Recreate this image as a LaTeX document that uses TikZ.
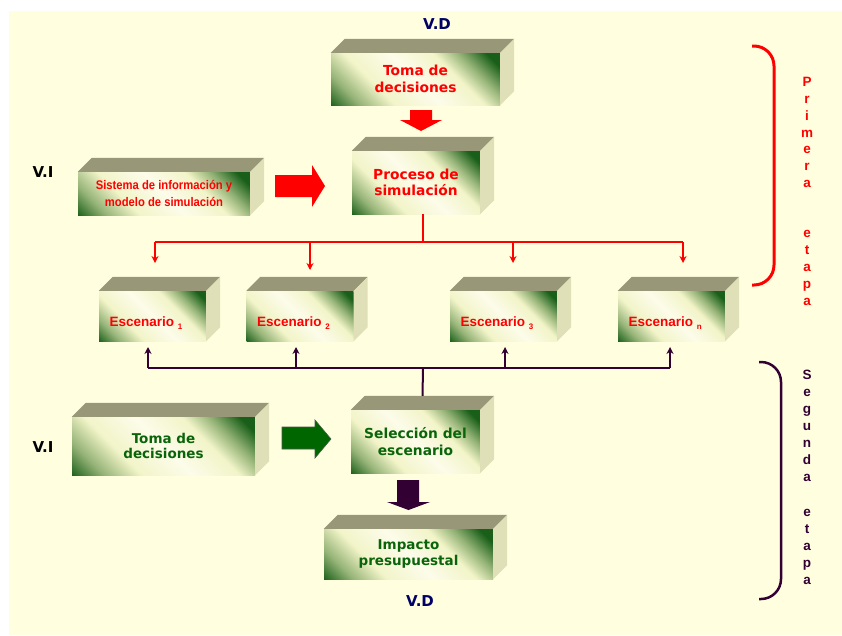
\documentclass[tikz,border=0pt]{standalone}
\usepackage{fontspec}
\setmainfont{DejaVu Sans}
\newfontfamily\arialfont{Liberation Sans}
\newfontfamily\narrowfont[FakeStretch=0.9]{Liberation Sans}
\usetikzlibrary{arrows.meta,calc}

\definecolor{bgyellow}{RGB}{255,255,224}
\definecolor{dgc}{RGB}{25,95,25}
\definecolor{mgc}{RGB}{150,180,120}
\definecolor{lyc}{RGB}{242,244,200}
\definecolor{wyc}{RGB}{252,252,234}
\definecolor{topc}{RGB}{152,152,120}
\definecolor{sidec}{RGB}{224,224,184}
\definecolor{redc}{RGB}{255,0,0}
\definecolor{greentext}{RGB}{10,100,10}
\definecolor{purplec}{RGB}{51,0,51}
\definecolor{navyc}{RGB}{0,0,102}
\definecolor{arrowgreen}{RGB}{0,102,0}

\pgfdeclarehorizontalshading{frontshade}{100bp}{color(0bp)=(dgc); color(14bp)=(dgc); color(24bp)=(mgc); color(35bp)=(lyc); color(50bp)=(wyc); color(64bp)=(lyc); color(72bp)=(mgc); color(81bp)=(dgc); color(100bp)=(dgc)}

\newcommand\boxsides[1]{%
  \fill[topc] (#1.north west) -- ++(14,-14) -- ($(#1.north east)+(14,-14)$) -- (#1.north east) -- cycle;
  \fill[sidec] (#1.north east) -- ++(14,-14) -- ($(#1.south east)+(14,-14)$) -- (#1.south east) -- cycle;
}
\newcommand\subnum[1]{\raisebox{-2.5pt}{\fontsize{8}{8}\selectfont #1}}

\tikzset{
  frontface/.style={shading=frontshade, shading angle=45, inner sep=0pt, align=center,
    font={\fontsize{13.8}{16.3}\selectfont\bfseries}},
  redface/.style={frontface, text=redc},
  greenface/.style={frontface, text=greentext},
  escface/.style={shading=frontshade, shading angle=45, inner sep=0pt, minimum width=107pt, minimum height=50pt},
  esctext/.style={anchor=base west, inner sep=0pt, text=redc, font={\arialfont\fontsize{13.5}{15}\selectfont\bfseries}},
  vlabel/.style={font={\fontsize{15}{17}\selectfont\bfseries}},
  redline/.style={draw=redc, line width=2pt},
  redarrow/.style={draw=redc, line width=1.6pt, -{Stealth[length=7pt,width=7pt]}},
  purpleline/.style={draw=purplec, line width=2pt},
  purplearrow/.style={draw=purplec, line width=1.6pt, -{Stealth[length=7pt,width=7pt]}},
  vletter/.style={anchor=base, inner sep=0pt, font={\arialfont\fontsize{13.5}{15}\selectfont\bfseries}},
}

\begin{document}
\begin{tikzpicture}[x=1pt,y=-1pt]
\useasboundingbox (0,0) rectangle (842,635);
\fill[white] (0,0) rectangle (842,635);
\fill[bgyellow] (9,11) rectangle (842,635);

% boxes
\node[redface, minimum width=169pt, minimum height=52pt] (toma) at (415.5,79) {Toma de\\decisiones};
\boxsides{toma}
\node[frontface, text=redc, minimum width=172pt, minimum height=43pt,
  font={\narrowfont\fontsize{12.5}{17.3}\selectfont\bfseries}] (sistema) at (164,193.5) {Sistema de información y\\modelo de simulación};
\boxsides{sistema}
\node[redface, minimum width=128pt, minimum height=63pt] (proceso) at (416,182.5) {Proceso de\\simulación};
\boxsides{proceso}

\node[escface] (esc1) at (152.5,316) {};
\boxsides{esc1}
\node[escface] (esc2) at (300,316) {};
\boxsides{esc2}
\node[escface] (esc3) at (503.5,316) {};
\boxsides{esc3}
\node[escface] (esc4) at (671.5,316) {};
\boxsides{esc4}
\node[esctext] (esc1t) at ($(esc1.west)+(10.5,10.7)$) {Escenario \subnum{1}};
\node[esctext] (esc2t) at ($(esc2.west)+(10.5,10.7)$) {Escenario \subnum{2}};
\node[esctext] (esc3t) at ($(esc3.west)+(10.5,10.7)$) {Escenario \subnum{3}};
\node[esctext] (esc4t) at ($(esc4.west)+(10.5,10.7)$) {Escenario \subnum{n}};

\node[greenface, minimum width=183pt, minimum height=58pt, font={\fontsize{13.5}{15.2}\selectfont\bfseries}] (toma2) at (163.5,446) {Toma de\\decisiones};
\boxsides{toma2}
\node[greenface, minimum width=129pt, minimum height=63pt] (seleccion) at (415.5,441.5) {Selección del\\escenario};
\boxsides{seleccion}
\node[greenface, minimum width=169pt, minimum height=50pt, font={\fontsize{13.5}{15.2}\selectfont\bfseries}] (impacto) at (408.5,554) {Impacto\\presupuestal};
\boxsides{impacto}

% labels
\node[vlabel, text=navyc] (vd1) at (437,24) {V.D};
\node[vlabel, text=navyc] (vd2) at (420,601) {V.D};
\node[vlabel, text=black] (vi1) at (43,172) {V.I};
\node[vlabel, text=black] (vi2) at (43,447) {V.I};

% block arrows
\fill[redc] (410,110) -- (432,110) -- (432,120) -- (442,120) -- (421,131) -- (400,120) -- (410,120) -- cycle;
\fill[redc] (275,175) -- (312,175) -- (312,165) -- (325,186) -- (312,207) -- (312,197) -- (275,197) -- cycle;
\filldraw[fill=arrowgreen, draw={rgb,255:red,70;green,90;blue,70}, line width=0.6pt]
  (282,427) -- (315,427) -- (315,420) -- (331,439) -- (315,458) -- (315,449) -- (282,449) -- cycle;
\fill[purplec] (397,480) -- (419,480) -- (419,502) -- (430,502) -- (408.5,510) -- (387,502) -- (397,502) -- cycle;

% red connectors
\coordinate (rj) at (423,242);
\coordinate (rl) at (155,242);
\coordinate (r2) at (310,242);
\coordinate (r3) at (513,242);
\coordinate (rr) at (683,242);
\coordinate (t1) at (155,263);
\coordinate (t2) at (310,270);
\coordinate (t3) at (513,263);
\coordinate (t4) at (683,263);
\draw[redline] ($(proceso.south)+(7,0)$) -- (rj);
\draw[redline] (rl) -- (rr);
\draw[redarrow] (rl) -- (t1);
\draw[redarrow] (r2) -- (t2);
\draw[redarrow] (r3) -- (t3);
\draw[redarrow] (rr) -- (t4);

% purple connectors
\coordinate (pj) at (423,368);
\coordinate (pl) at (148,368);
\coordinate (p2) at (296,368);
\coordinate (p3) at (505,368);
\coordinate (pr) at (670,368);
\coordinate (u1) at (148,347);
\coordinate (u2) at (296,347);
\coordinate (u3) at (505,347);
\coordinate (u4) at (670,347);
\draw[purpleline] ($(seleccion.north)+(7,-14)$) -- (pj);
\draw[purpleline] (pl) -- (pr);
\draw[purplearrow] (pl) -- (u1);
\draw[purplearrow] (p2) -- (u2);
\draw[purplearrow] (p3) -- (u3);
\draw[purplearrow] (pr) -- (u4);

% brackets
\draw[redc, line width=3pt, rounded corners=20pt] (752,46) -- (774,46) -- (774,285) -- (752,285);
\draw[purplec, line width=2.5pt, rounded corners=20pt] (759,362) -- (781,362) -- (781,599) -- (759,599);

% vertical texts
\foreach \ch [count=\i from 0] in {P,r,i,m,e,r,a}
  \node[vletter, text=redc] at (807,86.7+16.8*\i) {\ch};
\foreach \ch [count=\i from 9] in {e,t,a,p,a}
  \node[vletter, text=redc] at (807,86.7+16.8*\i) {\ch};
\foreach \ch [count=\i from 0] in {S,e,g,u,n,d,a}
  \node[vletter, text=purplec] at (807,379.3+17.1*\i) {\ch};
\foreach \ch [count=\i from 8] in {e,t,a,p,a}
  \node[vletter, text=purplec] at (807,379.3+17.1*\i) {\ch};
\end{tikzpicture}
\end{document}
